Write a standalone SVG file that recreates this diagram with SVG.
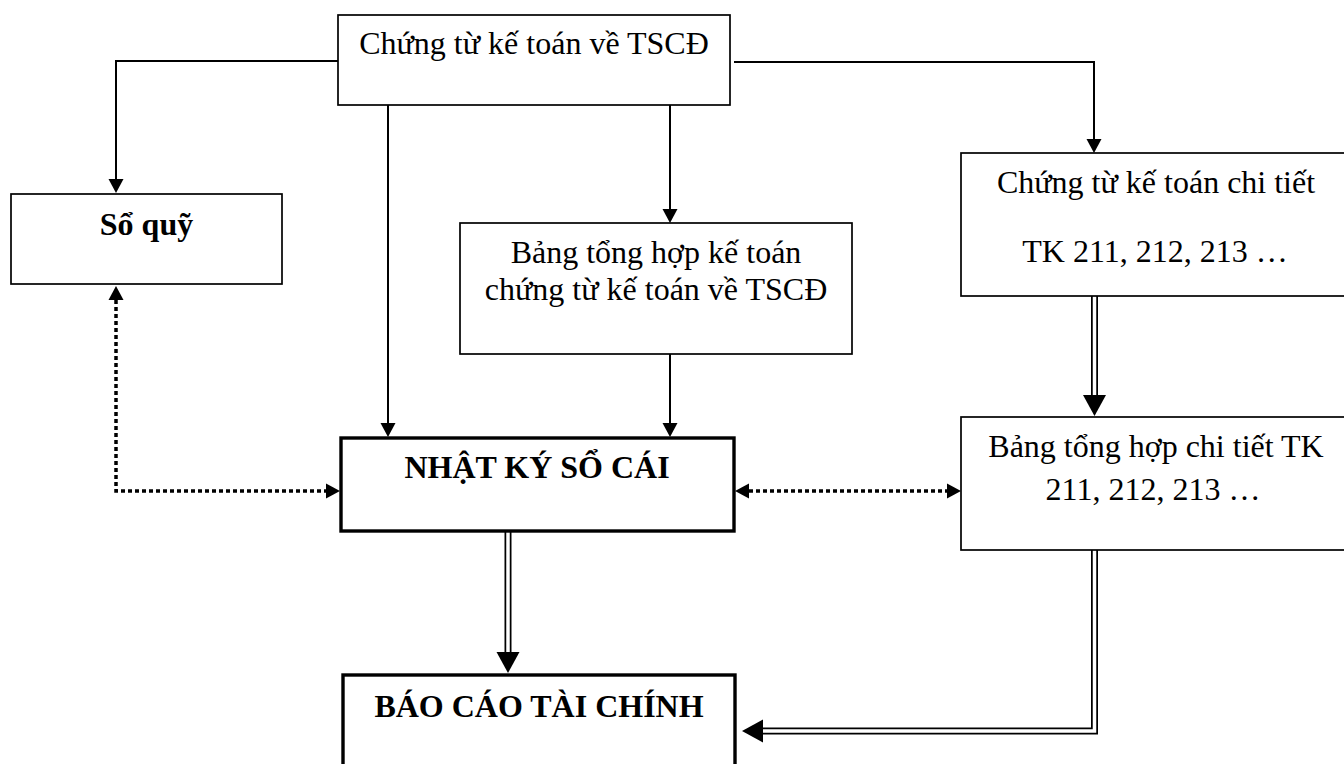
<svg xmlns="http://www.w3.org/2000/svg" width="1344" height="764" viewBox="0 0 1344 764">
  <style>
    .box { fill: #fff; stroke: #000; stroke-width: 1.7; }
    .box-thick { fill: #fff; stroke: #000; stroke-width: 3.4; }
    .txt { font-family: "Liberation Serif", "Times New Roman", serif; font-size: 32px; fill: #000; text-anchor: middle; }
    .bold { font-weight: bold; }
    .line { fill: none; stroke: #000; stroke-width: 2; }
    .dotted { fill: none; stroke: #000; stroke-width: 3.5; stroke-dasharray: 4 3; }
    .dbl-outer { fill: none; stroke: #000; stroke-width: 7; stroke-linejoin: miter; }
    .dbl-inner { fill: none; stroke: #fff; stroke-width: 3.5; stroke-linejoin: miter; }
  </style>
  <defs>
    <marker id="arrow" markerUnits="userSpaceOnUse" markerWidth="15" markerHeight="15" refX="0" refY="7.5" orient="auto-start-reverse" overflow="visible">
      <path d="M0,0 L14,7.5 L0,15 Z" fill="#000"/>
    </marker>
    <marker id="arrow-big" markerUnits="userSpaceOnUse" markerWidth="21" markerHeight="23" refX="0" refY="11.5" orient="auto" overflow="visible">
      <path d="M0,0 L21,11.5 L0,23 Z" fill="#000"/>
    </marker>
  </defs>

  <!-- connectors -->
  <g id="connectors">
    <path class="line" d="M338,61 H116 V179" marker-end="url(#arrow)"/>
    <path class="line" d="M388,105 V423" marker-end="url(#arrow)"/>
    <path class="line" d="M670,105 V209" marker-end="url(#arrow)"/>
    <path class="line" d="M734,62 H1094 V139" marker-end="url(#arrow)"/>
    <path class="line" d="M670,354 V423" marker-end="url(#arrow)"/>

    <path class="dotted" d="M116,300 V491 H326" marker-start="url(#arrow)" marker-end="url(#arrow)"/>
    <path class="dotted" d="M749,491 H947" marker-start="url(#arrow)" marker-end="url(#arrow)"/>

    <path class="dbl-outer" d="M508,532 V652" marker-end="url(#arrow-big)"/>
    <path class="dbl-inner" d="M508,530 V652"/>

    <path class="dbl-outer" d="M1094.5,296 V395" marker-end="url(#arrow-big)"/>
    <path class="dbl-inner" d="M1094.5,294 V395"/>

    <path class="dbl-outer" d="M1094.5,550 V731 H763" marker-end="url(#arrow-big)"/>
    <path class="dbl-inner" d="M1094.5,548 V731 H763"/>
  </g>

  <!-- nodes -->
  <g id="chung-tu">
    <rect class="box" x="338" y="15" width="392" height="90"/>
    <text class="txt" x="534" y="54">Chứng từ kế toán về TSCĐ</text>
  </g>

  <g id="so-quy">
    <rect class="box" x="11" y="194" width="271" height="90"/>
    <text class="txt bold" x="146.5" y="235">Sổ quỹ</text>
  </g>

  <g id="bang-tong-hop">
    <rect class="box" x="460" y="223" width="392" height="131"/>
    <text class="txt" x="656" y="263">Bảng tổng hợp kế toán</text>
    <text class="txt" x="656" y="300">chứng từ kế toán về TSCĐ</text>
  </g>

  <g id="chung-tu-chi-tiet">
    <rect class="box" x="961" y="153" width="400" height="143"/>
    <text class="txt" x="1156" y="193">Chứng từ kế toán chi tiết</text>
    <text class="txt" x="1155" y="262">TK 211, 212, 213 …</text>
  </g>

  <g id="nhat-ky-so-cai">
    <rect class="box-thick" x="341" y="438" width="393" height="93"/>
    <text class="txt bold" x="537" y="478">NHẬT KÝ SỔ CÁI</text>
  </g>

  <g id="bang-tong-hop-chi-tiet">
    <rect class="box" x="961" y="417" width="400" height="133"/>
    <text class="txt" x="1156" y="457">Bảng tổng hợp chi tiết TK</text>
    <text class="txt" x="1153" y="500">211, 212, 213 …</text>
  </g>

  <g id="bao-cao-tai-chinh">
    <rect class="box-thick" x="343" y="675" width="392" height="120"/>
    <text class="txt bold" x="539" y="717">BÁO CÁO TÀI CHÍNH</text>
  </g>
</svg>
